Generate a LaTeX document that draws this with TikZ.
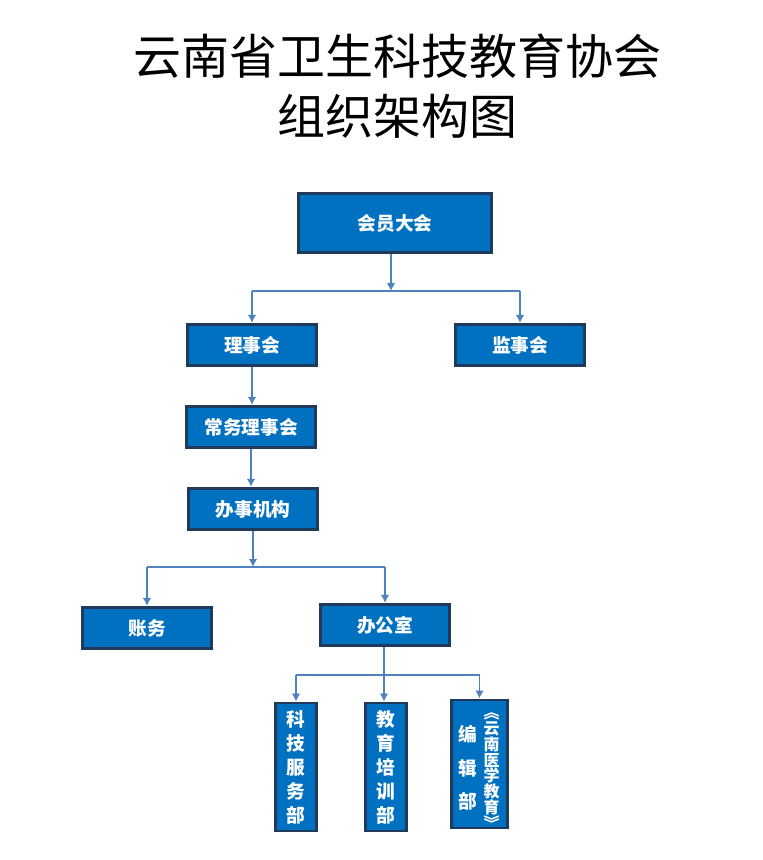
\documentclass[tikz,border=0pt]{standalone}
\usepackage{fontspec}
\newfontfamily\cjk{Noto Sans CJK SC}
\usetikzlibrary{positioning, calc, arrows, arrows.meta}
\definecolor{boxblue}{HTML}{0070C0}
\definecolor{boxline}{HTML}{1F3A5A}
\definecolor{linkblue}{HTML}{4F81BD}
\tikzset{>=latex}
\tikzset{
    orgbox/.style={draw=boxline, line width=2.2pt, fill=boxblue, text=white,
        font=\cjk\bfseries\fontsize{14}{16}\selectfont,
        minimum width=97pt, minimum height=31pt, inner sep=0pt},
    topbox/.style={orgbox, minimum width=145pt, minimum height=44.5pt},
    vertbox/.style={orgbox, minimum width=31pt, minimum height=96pt, align=center,
        font=\cjk\bfseries\fontsize{14}{18}\selectfont},
    link/.style={draw=linkblue, line width=1.3pt, -{Latex[length=6pt,width=6.5pt]}},
    bar/.style={draw=linkblue, line width=1pt},
}
\begin{document}
\begin{tikzpicture}[x=0.75pt,y=-0.75pt]
    \useasboundingbox (0,0) rectangle (763,860);
    \node[align=center, font=\cjk\fontsize{36}{45}\selectfont] (title) at (397,86)
        {云南省卫生科技教育协会\\组织架构图};

    \node[topbox] (hy) at (395,223) {会员大会};
    \node[orgbox] (lsh) at (252,345) {理事会};
    \node[orgbox] (jsh) at (520,345) {监事会};
    \node[orgbox] (cw) at (251,427) {常务理事会};
    \node[orgbox] (bs) at (253,509) {办事机构};
    \node[orgbox] (zw) at (147,628) {账务};
    \node[orgbox] (bgs) at (385,625) {办公室};
    \node[vertbox] (kj) at (296,767) {科\\技\\服\\务\\部};
    \node[vertbox] (jy) at (386,767) {教\\育\\培\\训\\部};
    \node[vertbox, minimum width=42pt] (bj) at (479.5,764) {};
    \node[text=white, align=center, font=\cjk\bfseries\fontsize{14}{25}\selectfont]
        (bjl) at ($(bj.center)+(-12,4)$) {编\\辑\\部};
    \node[text=white, align=center, font=\cjk\bfseries\fontsize{12}{11.8}\selectfont]
        (bjr) at ($(bj.center)+(12,7)$) {︽\\云\\南\\医\\学\\教\\育\\︾};

    % member congress to councils
    \coordinate (j1) at (391,291);
    \draw[link] (hy.south -| j1) -- (j1);
    \draw[bar] (lsh.north |- j1) -- (jsh.north |- j1);
    \draw[link] (lsh.north |- j1) -- (lsh.north);
    \draw[link] (jsh.north |- j1) -- (jsh.north);
    \draw[link] (lsh.south) -- (cw.north -| lsh.south);
    \draw[link] (cw.south) -- (bs.north -| cw.south);
    % office level
    \coordinate (j2) at (253,567);
    \draw[link] (bs.south) -- (j2);
    \draw[bar] (zw.north |- j2) -- (bgs.north |- j2);
    \draw[link] (zw.north |- j2) -- (zw.north);
    \draw[link] (bgs.north |- j2) -- (bgs.north);
    % departments
    \coordinate (j3) at (384,675);
    \draw[link] (bgs.south -| j3) -- (jy.north -| j3);
    \draw[bar] (kj.north |- j3) -- (bj.north |- j3);
    \draw[link] (kj.north |- j3) -- (kj.north);
    \draw[link] (bj.north |- j3) -- (bj.north);
\end{tikzpicture}
\end{document}
